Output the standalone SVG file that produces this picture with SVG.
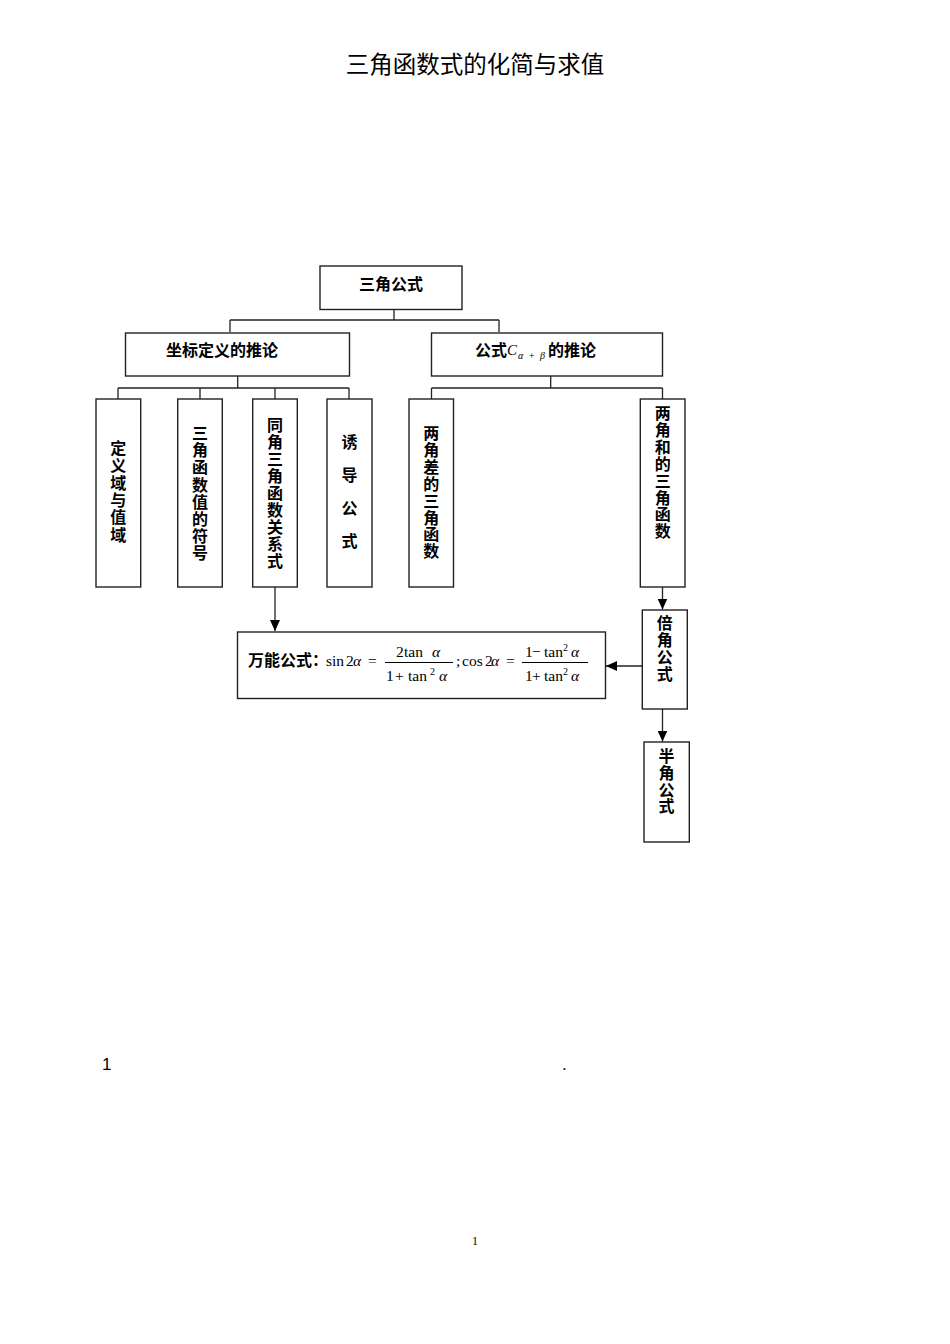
<svg xmlns="http://www.w3.org/2000/svg" width="950" height="1344" viewBox="0 0 950 1344">
<defs>
<marker id="ah" markerWidth="12" markerHeight="12" refX="11" refY="5" orient="auto" markerUnits="userSpaceOnUse">
<path d="M0,0 L11,5 L0,10 Z" fill="#000"/>
</marker>
<style>
.box{fill:#fff;stroke:#222;stroke-width:1.4}
.ln{fill:none;stroke:#222;stroke-width:1.3}
.cjk{font-family:"Noto Sans CJK SC","Noto Sans",sans-serif;font-weight:bold;font-size:16px;fill:#000}
.vt{writing-mode:vertical-rl;text-orientation:upright}
.m{font-family:"Liberation Serif","Times New Roman",serif;font-size:15.5px;fill:#000}
.mi{font-style:italic}
.sup{font-size:10px}
</style>
</defs>
<rect width="950" height="1344" fill="#fff"/>
<text x="475" y="73" text-anchor="middle" font-family="'Noto Sans CJK SC',sans-serif" font-size="23.5" fill="#000">三角函数式的化简与求值</text>

<g id="connectors">
<path class="ln" d="M394,309V320M230,320H499M230,320V332M499,320V332"/>
<path class="ln" d="M237.7,376V388M118,388H349M118,388V399M200,388V399M275,388V399M349,388V399"/>
<path class="ln" d="M550.7,376V388M431.5,388H662.5M431.5,388V399M662.5,388V399"/>
<path class="ln" d="M275,587V631" marker-end="url(#ah)"/>
<path class="ln" d="M662.5,587V609.5" marker-end="url(#ah)"/>
<path class="ln" d="M642,666H606" marker-end="url(#ah)"/>
<path class="ln" d="M662.5,709V741.5" marker-end="url(#ah)"/>
</g>

<g id="n-root">
<rect class="box" x="320" y="266" width="142" height="43.5"/>
<text class="cjk" x="391" y="290" text-anchor="middle" font-size="17">三角公式</text>
</g>
<g id="n-zuobiao">
<rect class="box" x="125.5" y="333" width="224" height="43"/>
<text class="cjk" x="222" y="356" text-anchor="middle" font-size="17">坐标定义的推论</text>
</g>
<g id="n-gongshi">
<rect class="box" x="431.5" y="333" width="231" height="43"/>
<text class="cjk" x="475" y="356" font-size="16">公式</text>
<text x="507" y="355" font-family="'Liberation Serif',serif" font-style="italic" font-size="15" fill="#000">C</text>
<text x="518" y="359" font-family="'Liberation Serif',serif" font-style="italic" font-size="10" fill="#000" textLength="27" lengthAdjust="spacing">α+β</text>
<text class="cjk" x="548" y="356" font-size="17">的推论</text>
</g>

<g id="n-dingyi">
<rect class="box" x="96" y="399" width="44.7" height="188"/>
<text class="cjk vt" x="118.3" y="440" letter-spacing="1.3">定义域与值域</text>
</g>
<g id="n-fuhao">
<rect class="box" x="177.7" y="399" width="44.6" height="188"/>
<text class="cjk vt" x="200" y="425" letter-spacing="1.2">三角函数值的符号</text>
</g>
<g id="n-tongjiao">
<rect class="box" x="252.7" y="399" width="44.6" height="188"/>
<text class="cjk vt" x="275" y="417" letter-spacing="1">同角三角函数关系式</text>
</g>
<g id="n-youdao">
<rect class="box" x="327" y="399" width="45" height="188"/>
<text class="cjk vt" x="349.5" y="434" font-size="17" letter-spacing="17">诱导公式</text>
</g>
<g id="n-liangjiaocha">
<rect class="box" x="409" y="399" width="44.5" height="188"/>
<text class="cjk vt" x="431.3" y="425" letter-spacing="0.9">两角差的三角函数</text>
</g>
<g id="n-liangjiaohe">
<rect class="box" x="640.3" y="399" width="44.7" height="188"/>
<text class="cjk vt" x="662.7" y="405" letter-spacing="0.9">两角和的三角函数</text>
</g>
<g id="n-beijiao">
<rect class="box" x="642.3" y="610" width="45" height="99"/>
<text class="cjk vt" x="664.8" y="615" letter-spacing="1">倍角公式</text>
</g>
<g id="n-banjiao">
<rect class="box" x="644" y="742" width="45.3" height="100"/>
<text class="cjk vt" x="666.6" y="748" letter-spacing="0.8">半角公式</text>
</g>

<g id="n-wanneng">
<rect class="box" x="237.5" y="632" width="368" height="66.5"/>
<text class="cjk" x="248" y="666" font-size="14">万能公式：</text>
<text class="m" x="326" y="666">sin</text>
<text class="m" x="346" y="666">2</text>
<text class="m mi" x="353" y="666">α</text>
<text class="m" x="368" y="666">=</text>
<text class="m" x="396" y="657">2</text>
<text class="m" x="404" y="657">tan</text>
<text class="m mi" x="432" y="657">α</text>
<line x1="385" y1="662.5" x2="453" y2="662.5" stroke="#000" stroke-width="1"/>
<text class="m" x="386" y="681">1</text>
<text class="m" x="395" y="681">+</text>
<text class="m" x="408" y="681">tan</text>
<text class="m sup" x="430" y="675">2</text>
<text class="m mi" x="439" y="681">α</text>
<text class="m" x="456" y="666">;</text>
<text class="m" x="462" y="666">cos</text>
<text class="m" x="485" y="666">2</text>
<text class="m mi" x="491" y="666">α</text>
<text class="m" x="506" y="666">=</text>
<text class="m" x="525" y="657">1</text>
<text class="m" x="532" y="657">−</text>
<text class="m" x="544" y="657">tan</text>
<text class="m sup" x="563" y="651">2</text>
<text class="m mi" x="571" y="657">α</text>
<line x1="522" y1="662.5" x2="588" y2="662.5" stroke="#000" stroke-width="1"/>
<text class="m" x="525" y="681">1</text>
<text class="m" x="532" y="681">+</text>
<text class="m" x="544" y="681">tan</text>
<text class="m sup" x="563" y="675">2</text>
<text class="m mi" x="571" y="681">α</text>
</g>

<text x="102" y="1070" font-family="'Liberation Sans',Arial,sans-serif" font-size="17" fill="#000">1</text>
<text x="562" y="1070" font-family="'Liberation Sans',Arial,sans-serif" font-size="17" fill="#000">.</text>
<text x="475" y="1245" text-anchor="middle" font-family="'Liberation Serif',serif" font-size="12" fill="#000">1</text>
</svg>
